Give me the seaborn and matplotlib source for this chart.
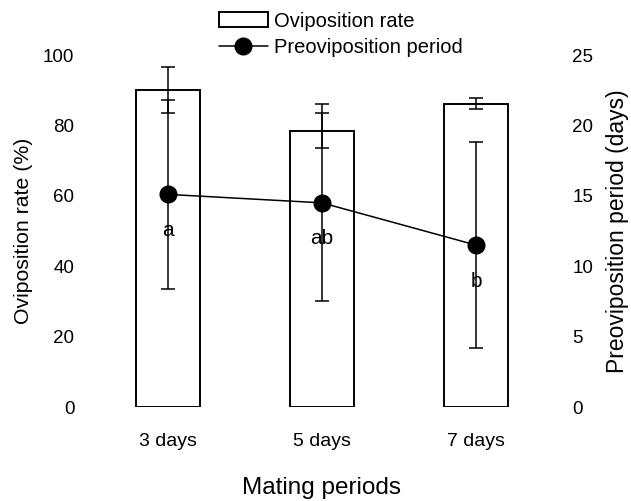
import matplotlib
matplotlib.use("Agg")
import matplotlib.pyplot as plt
import seaborn as sns
import numpy as np
import pandas as pd
from matplotlib.patches import Patch
from matplotlib.lines import Line2D

# ---- data ----
categories = ["3 days", "5 days", "7 days"]
oviposition_rate = [90.0, 78.5, 86.2]
oviposition_err = [6.6, 5.0, 1.5]
preoviposition = [15.1, 14.5, 11.5]
preoviposition_err = [6.7, 7.0, 7.3]
letters = ["a", "ab", "b"]
left_ticks = [0, 20, 40, 60, 80, 100]
right_ticks = [0, 5, 10, 15, 20, 25]

sns.set_style("white")
plt.rcParams['font.family'] = ['Liberation Sans', 'DejaVu Sans']
plt.rcParams['text.color'] = 'black'
plt.rcParams['axes.labelcolor'] = 'black'
plt.rcParams['xtick.color'] = 'black'
plt.rcParams['ytick.color'] = 'black'

df = pd.DataFrame({"period": categories, "rate": oviposition_rate,
                   "pre": preoviposition})

fig = plt.figure(figsize=(6.31, 5.01), dpi=100)
ax = fig.add_axes([0.1442, 0.1876, 0.7322, 0.7026])

sns.barplot(data=df, x="period", y="rate", ax=ax, color="white",
            edgecolor="black", linewidth=1.4, width=0.41, errorbar=None)
xpos = np.arange(len(categories))
ax.errorbar(xpos, oviposition_rate, yerr=oviposition_err, fmt="none",
            ecolor="black", elinewidth=1.1, capsize=4.7, capthick=1.1)
ax.set_xlim(-0.5, 2.5)
ax.set_ylim(0, 100)
ax.set_yticks(left_ticks)
ax.set_ylabel("Oviposition rate (%)", fontsize=15.3, labelpad=7)
ax.set_xlabel("Mating periods", fontsize=17.5)
ax.xaxis.set_label_coords(0.5, -0.2)
ax.tick_params(axis="y", length=0, pad=12, labelsize=13.5)
ax.tick_params(axis="x", length=0, pad=19, labelsize=14)

ax2 = ax.twinx()
ax2.plot(xpos, preoviposition, color="black", lw=1.1, marker="o",
         markersize=12, zorder=5)
ax2.errorbar(xpos, preoviposition, yerr=preoviposition_err, fmt="none",
             ecolor="black", elinewidth=1.1, capsize=4.7, capthick=1.1)
for i, t in enumerate(letters):
    ax2.annotate(t, (xpos[i], preoviposition[i]), xytext=(0, -26),
                 textcoords="offset points", ha="center", va="center",
                 fontsize=15)
ax2.set_ylim(0, 25)
ax2.set_yticks(right_ticks)
ax2.set_ylabel("Preoviposition period (days)", fontsize=16.5, labelpad=9)
ax2.tick_params(axis="y", length=0, pad=14, labelsize=13.5)

for a in (ax, ax2):
    for s in a.spines.values():
        s.set_visible(False)

handles = [Patch(facecolor="white", edgecolor="black", linewidth=1.4),
           Line2D([], [], color="black", lw=1.1, marker="o", markersize=12)]
fig.legend(handles, ["Oviposition rate", "Preoviposition period"],
           loc="upper center", bbox_to_anchor=(0.54, 1.005), frameon=False,
           fontsize=14.5, handlelength=2.4, handletextpad=0.3,
           labelspacing=0.35, borderpad=0.2)

fig.savefig("out.png", dpi=100)
